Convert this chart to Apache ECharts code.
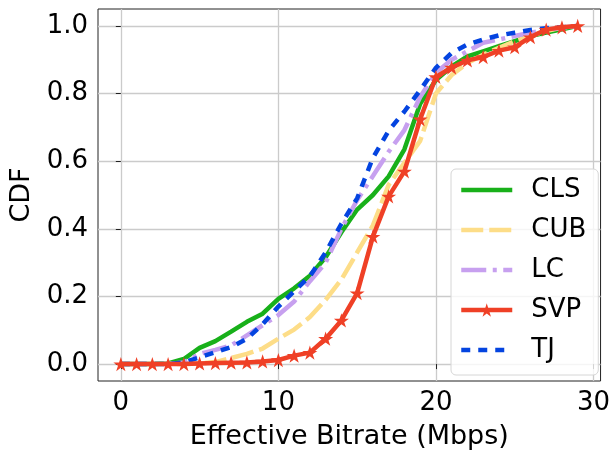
<!DOCTYPE html>
<html>
<head>
<meta charset="utf-8">
<script src="https://cdn.jsdelivr.net/npm/echarts@6/dist/echarts.min.js"></script>
<style>
  html, body { margin: 0; padding: 0; background: #ffffff; }
  #chart { width: 613px; height: 455px; }
</style>
</head>
<body>
<div id="chart"></div>
<script>
// Effective bitrate (Mbps) sample points
const bitrates = [0, 1, 2, 3, 4, 5, 6, 7, 8, 9, 10, 11, 12, 13, 14, 15, 16, 17, 18, 19, 20, 21, 22, 23, 24, 25, 26, 27, 28, 29];

// CDF of each scheme at those bitrates
const cdfCLS = [0, 0, 0, 0.002, 0.015, 0.048, 0.068, 0.096, 0.125, 0.149, 0.193, 0.224, 0.261, 0.316, 0.39, 0.457, 0.50, 0.555, 0.635, 0.77, 0.84, 0.88, 0.91, 0.925, 0.94, 0.955, 0.97, 0.98, 0.99, 1.0];
const cdfCUB = [0, 0, 0, 0, 0, 0.002, 0.006, 0.018, 0.03, 0.046, 0.075, 0.102, 0.139, 0.19, 0.25, 0.33, 0.41, 0.53, 0.595, 0.66, 0.80, 0.855, 0.89, 0.915, 0.935, 0.955, 0.97, 0.985, 0.995, 1.0];
const cdfLC  = [0, 0, 0, 0, 0.005, 0.03, 0.042, 0.055, 0.085, 0.115, 0.145, 0.185, 0.245, 0.30, 0.40, 0.485, 0.556, 0.628, 0.692, 0.79, 0.862, 0.90, 0.925, 0.95, 0.96, 0.97, 0.98, 0.988, 0.995, 1.0];
const cdfSVP = [0, 0, 0, 0, 0, 0.002, 0.003, 0.004, 0.005, 0.008, 0.012, 0.025, 0.034, 0.075, 0.129, 0.21, 0.377, 0.496, 0.57, 0.724, 0.849, 0.877, 0.898, 0.908, 0.927, 0.937, 0.967, 0.989, 0.996, 1.0];
const cdfTJ  = [0, 0, 0, 0, 0.005, 0.02, 0.035, 0.05, 0.075, 0.118, 0.17, 0.215, 0.26, 0.33, 0.415, 0.49, 0.61, 0.69, 0.747, 0.81, 0.876, 0.92, 0.945, 0.96, 0.972, 0.98, 0.988, 0.993, 0.996, 1.0];

const seriesNames = ['CLS', 'CUB', 'LC', 'SVP', 'TJ'];

// Axis ticks
const xTicks = [0, 10, 20, 30];
const yTicks = [0, 0.2, 0.4, 0.6, 0.8, 1.0];

const FONT = 'DejaVu Sans';

// Five-pointed star marker
function starPath() {
  const pts = [];
  for (let k = 0; k < 10; k++) {
    const r = k % 2 === 0 ? 1 : 0.381966;
    const a = -Math.PI / 2 + k * Math.PI / 5;
    pts.push((r * Math.cos(a)).toFixed(4) + ' ' + (r * Math.sin(a)).toFixed(4));
  }
  return 'path://M' + pts.join(' L') + ' Z';
}

function pairs(ys) {
  return bitrates.map((x, i) => [x, ys[i]]);
}

const styles = {
  CLS: { color: '#18b01a', type: 'solid', width: 4.5 },
  CUB: { color: '#fddd88', type: [22, 6], width: 4.5 },
  LC:  { color: '#c7a0ef', type: [25, 6.5, 4, 6.5], width: 4.5 },
  SVP: { color: '#ef4026', type: 'solid', width: 4.5 },
  TJ:  { color: '#0444e0', type: [9, 8], width: 4.5 }
};

const values = { CLS: cdfCLS, CUB: cdfCUB, LC: cdfLC, SVP: cdfSVP, TJ: cdfTJ };

const series = seriesNames.map((name, i) => {
  const st = styles[name];
  const starred = name === 'SVP';
  return {
    name: name,
    type: 'line',
    data: pairs(values[name]),
    showSymbol: starred,
    symbol: starred ? starPath() : 'none',
    symbolSize: 15,
    symbolKeepAspect: true,
    lineStyle: { color: st.color, width: st.width, type: st.type, cap: 'butt' },
    // plain lines carry no marker, so their legend swatch shows only the stroke
    itemStyle: { color: st.color, borderWidth: 0, opacity: starred ? 1 : 0 },
    z: starred ? 10 : 2 + i,
    silent: true,
    animation: false
  };
});

const chart = echarts.init(document.getElementById('chart'), null, { renderer: 'canvas' });

chart.setOption({
  animation: false,
  backgroundColor: '#ffffff',
  grid: {
    left: 98, right: 11, top: 9, bottom: 73,
    show: true, borderColor: '#222222', borderWidth: 1, backgroundColor: 'transparent'
  },
  xAxis: {
    type: 'value',
    min: -1.45, max: 30.45,
    axisLine: { show: false },
    axisTick: { show: true, customValues: xTicks, length: 5, lineStyle: { color: '#222222', width: 1 } },
    axisLabel: {
      customValues: xTicks, fontSize: 26, color: '#000000', margin: 9, fontFamily: FONT,
      formatter: v => String(Math.round(v))
    },
    splitLine: { show: true, lineStyle: { color: '#cbcbcb', width: 1.3 } },
    name: 'Effective Bitrate (Mbps)',
    nameLocation: 'middle',
    nameGap: 42,
    nameTextStyle: { fontSize: 27, color: '#000000', fontFamily: FONT }
  },
  yAxis: {
    type: 'value',
    min: -0.05, max: 1.05,
    axisLine: { show: false },
    axisTick: { show: true, customValues: yTicks, length: 5, lineStyle: { color: '#222222', width: 1 } },
    axisLabel: {
      customValues: yTicks, fontSize: 26, color: '#000000', margin: 10, fontFamily: FONT,
      formatter: v => v.toFixed(1)
    },
    splitLine: { show: true, lineStyle: { color: '#cbcbcb', width: 1.3 } },
    name: 'CDF',
    nameLocation: 'middle',
    nameGap: 50,
    nameTextStyle: { fontSize: 27, color: '#000000', fontFamily: FONT }
  },
  legend: {
    orient: 'vertical',
    left: 451, top: 169,
    itemWidth: 51, itemHeight: 17, itemGap: 14,
    padding: [8, 12, 12, 8],
    borderColor: '#d6d6d6', borderWidth: 1, borderRadius: 5,
    backgroundColor: 'rgba(255,255,255,0.8)',
    selectedMode: false,
    lineStyle: { width: 4.5 },
    itemStyle: { borderWidth: 0 },
    textStyle: { fontFamily: FONT, fontSize: 26, color: '#000000', lineHeight: 26, padding: [0, 0, 0, 14] },
    data: seriesNames
  },
  series: series
});
</script>
</body>
</html>
